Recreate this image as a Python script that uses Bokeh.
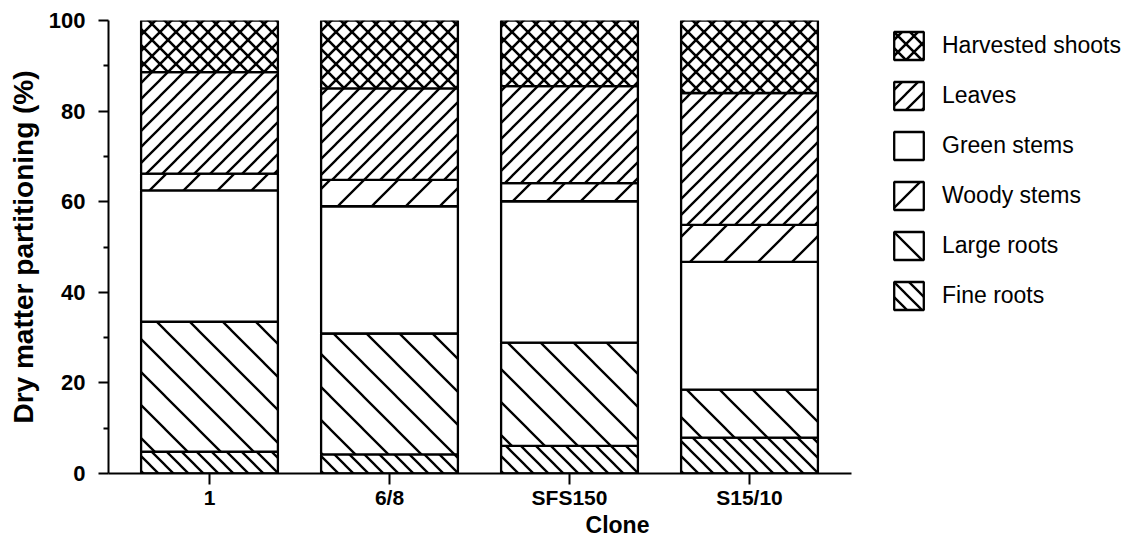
from bokeh.plotting import figure
from bokeh.models import (ColumnDataSource, Range1d, Legend,
                          LegendItem, FixedTicker, CanvasTexture)
from bokeh.core.properties import value
from bokeh.embed import file_html
from bokeh.resources import INLINE

# ---- data (percent of total dry matter) ----
clones = ["1", "6/8", "SFS150", "S15/10"]
fine_roots = [4.8, 4.2, 6.1, 7.9]
large_roots = [28.7, 26.7, 22.8, 10.6]
green_stems = [29.0, 28.1, 31.2, 28.2]
woody_stems = [3.7, 5.8, 4.0, 8.2]
leaves = [22.4, 20.2, 21.4, 29.1]
harvested_shoots = [11.4, 15.0, 14.5, 16.0]

series_labels = ["Fine roots", "Large roots", "Green stems",
                 "Woody stems", "Leaves", "Harvested shoots"]
legend_order = ["Harvested shoots", "Leaves", "Green stems",
                "Woody stems", "Large roots", "Fine roots"]
y_ticks = [0, 20, 40, 60, 80, 100]
y_minor = [10, 30, 50, 70, 90]

keys = ["fine_roots", "large_roots", "green_stems",
        "woody_stems", "leaves", "harvested_shoots"]
positions = [i + 1 for i in range(len(clones))]
source = ColumnDataSource(dict(
    x=positions,
    clone=clones,
    fine_roots=fine_roots,
    large_roots=large_roots,
    green_stems=green_stems,
    woody_stems=woody_stems,
    leaves=leaves,
    harvested_shoots=harvested_shoots,
))

FONT = "Liberation Sans"


def hatch_texture(size, weight, right, left):
    """45-degree line texture; tile size and line weight are fixed in the code."""
    code = [
        "const s = %d;" % size,
        "if (ctx.canvas) { ctx.canvas.width = s; ctx.canvas.height = s; }",
        "ctx.clearRect(0, 0, s, s);",
        "ctx.strokeStyle = 'black';",
        "ctx.lineWidth = %s;" % weight,
        "ctx.lineCap = 'butt';",
        "ctx.beginPath();",
    ]
    if right:
        code += [
            "ctx.moveTo(0, s); ctx.lineTo(s, 0);",
            "ctx.moveTo(-s, s); ctx.lineTo(s, -s);",
            "ctx.moveTo(0, 2*s); ctx.lineTo(2*s, 0);",
        ]
    if left:
        code += [
            "ctx.moveTo(0, 0); ctx.lineTo(s, s);",
            "ctx.moveTo(0, -s); ctx.lineTo(2*s, s);",
            "ctx.moveTo(-s, 0); ctx.lineTo(s, 2*s);",
        ]
    code.append("ctx.stroke();")
    return CanvasTexture(code="\n".join(code))


textures = {
    "fine": hatch_texture(15, 2.3, right=False, left=True),
    "large": hatch_texture(33, 2.3, right=False, left=True),
    "woody": hatch_texture(34, 2.3, right=True, left=False),
    "leaves": hatch_texture(16, 2.3, right=True, left=False),
    "cross": hatch_texture(16, 2.6, right=True, left=True),
}

# screen layout: 180 px per clone, first clone 101 px right of the y axis
PX = 180.0
x_start = 1 - 101 / PX
x_end = 1 + (1126 - 108 - 101) / PX
x_axis_end = 1 + (851 - 108 - 101) / PX

p = figure(
    x_range=Range1d(x_start, x_end),
    y_range=Range1d(0, 100),
    width=1126, height=542,
    output_backend="svg", toolbar_location=None,
    min_border_left=108, min_border_right=0,
    min_border_top=20, min_border_bottom=69,
)

hatches = [value("fine"), value("large"), " ", value("woody"),
           value("leaves"), value("cross")]
scales = [15, 33, 12, 34, 16, 16]

renderers = p.vbar_stack(
    keys, x="x", width=0.76, source=source,
    fill_color="white", line_color="black", line_width=2.3,
    hatch_pattern=hatches, hatch_scale=scales, hatch_extra=textures,
    hatch_color="black", hatch_weight=2,
)
by_label = dict(zip(series_labels, renderers))

items = [LegendItem(label=lab, renderers=[by_label[lab]])
         for lab in legend_order]
legend = Legend(
    items=items, location=(782, 160), orientation="vertical",
    glyph_width=37, glyph_height=35, label_height=35, spacing=15,
    label_standoff=15, padding=0, margin=0,
    border_line_color=None, background_fill_alpha=0,
    label_text_font=FONT, label_text_font_size="23px",
    label_text_color="black",
)
p.add_layout(legend)

p.outline_line_color = None
p.xgrid.grid_line_color = None
p.ygrid.grid_line_color = None
p.background_fill_color = "white"

for ax in (p.xaxis[0], p.yaxis[0]):
    ax.axis_line_width = 2
    ax.axis_line_color = "black"
    ax.major_tick_line_width = 2
    ax.major_tick_line_color = "black"
    ax.major_tick_in = 0
    ax.major_label_text_font = FONT
    ax.major_label_text_font_style = "bold"
    ax.major_label_text_color = "black"
    ax.axis_label_text_font = FONT
    ax.axis_label_text_color = "black"

p.yaxis.ticker = FixedTicker(ticks=y_ticks, minor_ticks=y_minor)
p.yaxis.major_tick_out = 10
p.yaxis.minor_tick_out = 5
p.yaxis.minor_tick_in = 0
p.yaxis.minor_tick_line_width = 2
p.yaxis.minor_tick_line_color = "black"
p.yaxis.major_label_text_font_size = "22px"
p.yaxis.major_label_standoff = 13
p.yaxis.axis_label = "Dry matter partitioning (%)"
p.yaxis.axis_label_text_font_size = "28px"
p.yaxis.axis_label_text_font_style = "bold"
p.yaxis.axis_label_standoff = 7

p.xaxis.ticker = FixedTicker(ticks=positions, minor_ticks=[])
p.xaxis.major_label_overrides = {pos: name for pos, name in zip(positions, clones)}
p.xaxis.bounds = (x_start, x_axis_end)
p.xaxis.major_tick_out = 11
p.xaxis.minor_tick_out = 0
p.xaxis.minor_tick_in = 0
p.xaxis.major_label_text_font_size = "21px"
p.xaxis.major_label_standoff = 1
p.xaxis.axis_label = "Clone"
p.xaxis.axis_label_text_font_size = "23px"
p.xaxis.axis_label_text_font_style = "bold"
p.xaxis.axis_label_standoff = 0

open("out.html", "w").write(file_html(p, INLINE))
